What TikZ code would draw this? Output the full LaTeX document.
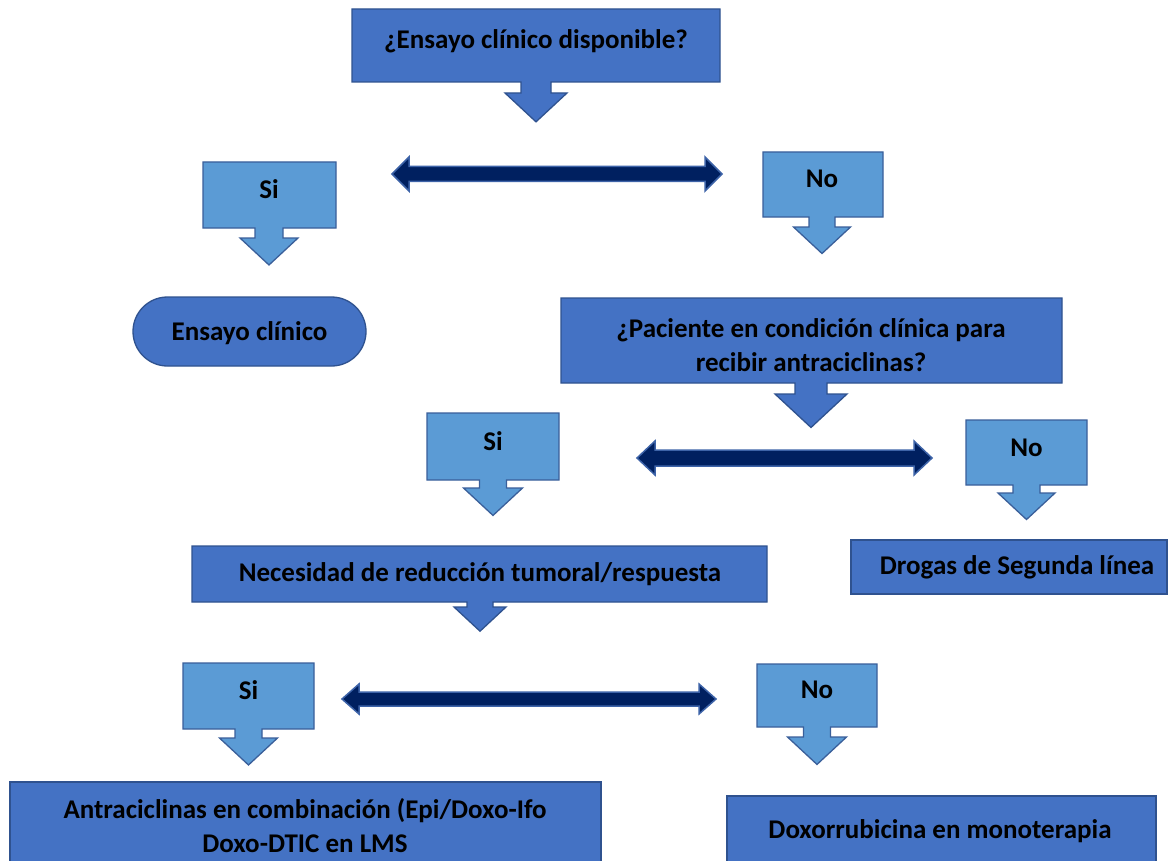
\documentclass[tikz,border=0pt]{standalone}
\usepackage{fontspec}
\setmainfont{Carlito}
\usetikzlibrary{calc}

\definecolor{boxfill}{HTML}{4472C4}
\definecolor{boxline}{HTML}{2F528F}
\definecolor{calfill}{HTML}{5B9BD5}
\definecolor{calline}{HTML}{3A5F9A}
\definecolor{arrfill}{HTML}{002060}
\definecolor{arrline}{HTML}{3D63A8}

% callout box with a downward arrow:
% #1 style, #2 x1, #3 x2, #4 y1, #5 y2, #6 centre x, #7 stem half width,
% #8 head half width, #9 y where the head starts
\newcommand\calloutbox[9]{%
  \draw[#1] (#2,#4) -- (#3,#4) -- (#3,#5) -- ({#6+#7},#5) -- ({#6+#7},#9)
    -- ({#6+#8},#9) -- ({#6},{#9+0.93*#8}) -- ({#6-#8},#9) -- ({#6-#7},#9)
    -- ({#6-#7},#5) -- (#2,#5) -- cycle;}

% horizontal double-headed block arrow between two named coordinates:
% #1 left end, #2 right end, #3 shaft half width, #4 head half width, #5 head length
\newcommand\blockarrow[5]{%
  \draw[darr] (#1) -- ++(#5,#4) -- ++(0,{-#4+#3}) -- ($(#2)+(-#5,#3)$)
    -- ++(0,{#4-#3}) -- (#2) -- ++(-#5,-#4) -- ++(0,{#4-#3})
    -- ($(#1)+(#5,-#3)$) -- ++(0,{-#4+#3}) -- cycle;}

\tikzset{
  dark/.style={fill=boxfill, draw=boxline, line width=1.3pt, line join=miter},
  light/.style={fill=calfill, draw=calline, line width=1.3pt, line join=miter},
  darr/.style={fill=arrfill, draw=arrline, line width=1.5pt, line join=miter},
  lbl/.style={font=\bfseries\fontsize{27}{34}\selectfont, text=black, inner sep=0pt, align=center},
}

\begin{document}
\begin{tikzpicture}[x=1pt, y=-1pt]
\useasboundingbox (0,0) rectangle (1169,861);
\fill[white] (0,0) rectangle (1169,861);
\clip (0,0) rectangle (1169,861);

% first question
\calloutbox{dark}{352}{720}{9}{82}{536}{15}{31}{93}
\node[lbl] (q1) at (536,41) {¿Ensayo clínico disponible?};

% yes / no branches of the first question
\calloutbox{light}{203}{336}{162}{228}{269}{14}{29}{238}
\node[lbl] (si1) at (269,189) {Si};
\calloutbox{light}{763}{883}{152}{217}{822}{13}{28.5}{227}
\node[lbl] (no1) at (822,179) {No};
\coordinate (a1l) at (392,174);
\coordinate (a1r) at (722,174);
\blockarrow{a1l}{a1r}{7.5}{17}{17}

% clinical trial (terminal shape)
\node[dark, rounded corners=34.5pt, minimum width=233pt, minimum height=69pt,
      inner sep=0pt] (trial) at (249.5,331.5) {};
\node[lbl] (triallbl) at ($(trial.center)+(0,2)$) {Ensayo clínico};

% second question
\calloutbox{dark}{561}{1062}{298}{383}{811}{16}{36}{394}
\node[lbl] (q2) at (811,345) {¿Paciente en condición clínica para\\recibir antraciclinas?};

% yes / no branches of the second question
\calloutbox{light}{427}{559}{413}{480}{493}{13.5}{29.5}{488}
\node[lbl] (si2) at (493,441) {Si};
\calloutbox{light}{966}{1087}{420}{485}{1026.5}{13.5}{28.5}{493}
\node[lbl] (no2) at (1026.5,448) {No};
\coordinate (a2l) at (637,458);
\coordinate (a2r) at (932,458);
\blockarrow{a2l}{a2r}{8}{17}{18}

% second-line drugs
\draw[dark] (851,540) rectangle (1167,594);
\node[lbl] (drugs) at (1017,567) {Drogas de Segunda línea};

% third question
\calloutbox{dark}{192}{767}{546}{602}{480}{13}{26}{607}
\node[lbl] (q3) at (480,574) {Necesidad de reducción tumoral/respuesta};

% yes / no branches of the third question
\calloutbox{light}{183}{314}{663}{729}{248.5}{13.5}{29}{738}
\node[lbl] (si3) at (248.5,690) {Si};
\calloutbox{light}{757}{877}{664}{727}{817}{13.5}{29.5}{737}
\node[lbl] (no3) at (817,690) {No};
\coordinate (a3l) at (342,699);
\coordinate (a3r) at (716,699);
\blockarrow{a3l}{a3r}{7}{15}{17}

% treatments
\draw[dark] (10,782) rectangle (601,880);
\node[lbl] (combo) at (305,826) {Antraciclinas en combinación (Epi/Doxo-Ifo\\Doxo-DTIC en LMS};
\draw[dark] (727,796) rectangle (1156,880);
\node[lbl] (mono) at (940,831) {Doxorrubicina en monoterapia};
\end{tikzpicture}
\end{document}
